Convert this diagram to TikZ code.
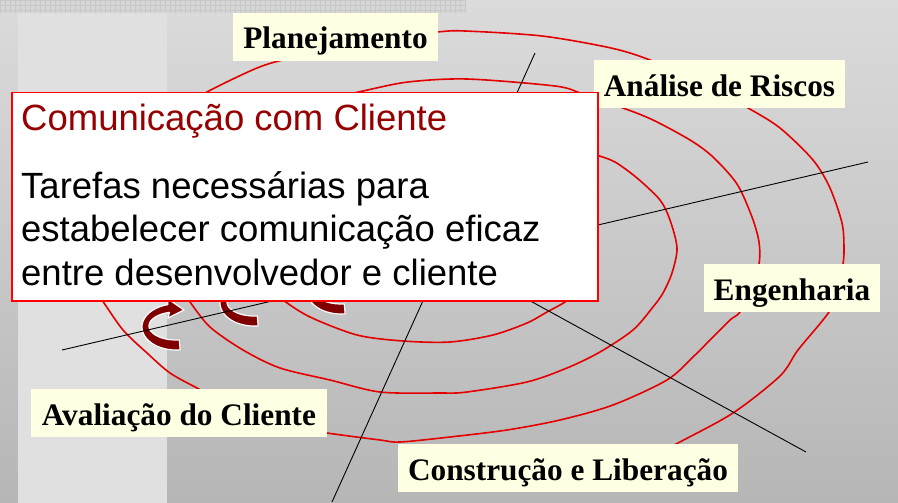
\documentclass[tikz,border=0pt]{standalone}
\usepackage{fontspec}
\setmainfont{Liberation Serif}
\newfontfamily\arialf{Liberation Sans}
\definecolor{spiralred}{RGB}{228,0,0}
\definecolor{arrowred}{RGB}{128,0,0}
\definecolor{labelfill}{RGB}{255,255,228}
\definecolor{titlered}{RGB}{150,0,0}
\definecolor{bgtop}{RGB}{219,219,219}
\definecolor{bgbot}{RGB}{182,182,182}
\definecolor{bandgray}{RGB}{224,224,224}
\definecolor{checkfill}{RGB}{214,214,214}
\definecolor{checkline}{RGB}{200,200,200}
\newcommand\curlarrowshape[2]{%
  \begin{scope}[shift={(#1,#2)}]
    \fill[curlarrow] plot[domain=83:256, samples=40] ({34*cos(\x)},{23*sin(\x)})
      -- (-8,-28) -- (8,-17) -- (-8,-9)
      -- plot[domain=256:83, samples=40] ({27*cos(\x)},{-1+14*sin(\x)}) -- cycle;
  \end{scope}}
\begin{document}
\begin{tikzpicture}[x=1pt,y=-1pt,
  spiral/.style={draw=spiralred, line width=1.6pt, line join=round},
  axisline/.style={draw=black, line width=0.9pt},
  checkstroke/.style={draw=checkline, line width=0.6pt},
  curlarrow/.style={fill=arrowred, draw=white, line width=1.2pt, line join=round},
  phase/.style={fill=labelfill, inner sep=0pt, minimum height=48pt, text height=24pt, text depth=0pt,
    font=\bfseries\fontsize{31.3}{36}\selectfont},
  bodytext/.style={anchor=base west, inner sep=0pt, font=\arialf\fontsize{36.5}{43}\selectfont}]
\useasboundingbox (0,0) rectangle (898,503);
% background
\shade[top color=bgtop, bottom color=bgbot] (0,0) rectangle (898,503);
\fill[bandgray] (18,13) rectangle (167,503);
\fill[checkfill] (0,0) rectangle (465,13);
\foreach \i in {0,5,...,465} \draw[checkstroke] (\i,0) -- (\i,13);
\foreach \j in {0,5,10} \draw[checkstroke] (0,\j) -- (465,\j);
% curled arrows
\curlarrowshape{176}{327}
\curlarrowshape{254}{303}
\curlarrowshape{341}{291}
% spiral
\draw[spiral] plot[smooth, tension=0.5] coordinates {(200,100) (207,92) (257,68) (290,58) (360,40) (437,32) (465,31) (542,36) (611,48) (650,60) (700,82) (748,108) (780,128) (813,160) (830,188) (842,223) (844,247) (843,264) (837,290) (829,312) (798,350) (780,376) (733,413) (678,443) (650,458)};
\draw[spiral] plot[smooth, tension=0.5] coordinates {(95,290) (102,300) (123,330) (147,353) (170,373) (197,388) (210,395)};
\draw[spiral] plot[smooth, tension=0.5] coordinates {(350,94) (363,91) (408,82) (467,79) (555,86) (580,93) (600,101) (623,108) (653,120) (690,140) (713,157) (737,184) (752,217) (759,242) (759,264) (750,290) (740,312) (730,320) (713,337) (693,357) (667,380) (613,405) (560,420) (507,430) (450,437) (400,442) (380,440) (327,433) (315,430)};
\draw[spiral] plot[smooth, tension=0.5] coordinates {(588,150) (597,155) (615,162) (637,178) (660,200) (670,220) (677,248) (672,273) (663,293) (653,307) (633,330) (600,352) (567,368) (527,382) (467,392) (440,393) (380,392) (330,380) (280,368) (243,350) (210,327) (190,302) (185,294)};
\draw[spiral] plot[smooth, tension=0.5] coordinates {(279,294) (283,300) (310,317) (357,335) (403,341) (450,342) (493,335) (527,323) (547,312) (565,302) (571,295)};
% axes
\coordinate (a1) at (62,350);
\coordinate (a2) at (868,162);
\coordinate (b1) at (535,53);
\coordinate (b2) at (332,502);
\coordinate (c1) at (441,252);
\coordinate (c2) at (806,452);
\draw[axisline] (a1) -- (a2);
\draw[axisline] (b1) -- (b2);
\draw[axisline] (c1) -- (c2);
% phase labels
\node[phase, minimum width=205pt] (plan) at (335.5,37) {Planejamento};
\node[phase, minimum width=251pt] (risk) at (719.5,84) {Análise de Riscos};
\node[phase, minimum width=176pt] (eng) at (792,288) {Engenharia};
\node[phase, minimum width=340pt] (constr) at (568,468) {Construção e Liberação};
\node[phase, minimum width=296pt] (aval) at (179,413) {Avaliação do Cliente};
% info box
\node[draw=red, fill=white, line width=1.5pt, minimum width=586pt, minimum height=208pt,
  inner sep=0pt, anchor=north west] (combox) at (11,92) {};
\node[bodytext, text=titlered] (title) at (21,131) {Comunicação com Cliente};
\node[bodytext] (line1) at (21,198) {Tarefas necessárias para};
\node[bodytext] (line2) at (21,241.5) {estabelecer comunicação eficaz};
\node[bodytext] (line3) at (21,285) {entre desenvolvedor e cliente};
\end{tikzpicture}
\end{document}
